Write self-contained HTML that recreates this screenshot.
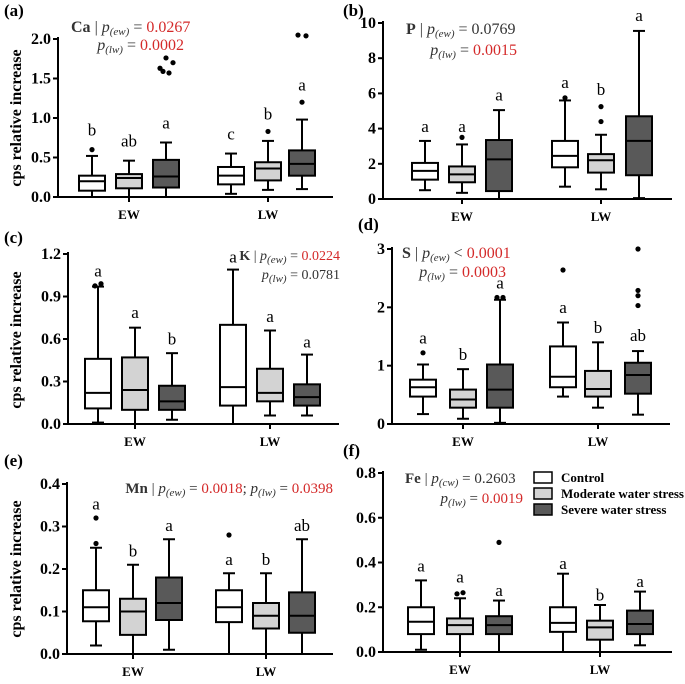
<!DOCTYPE html>
<html><head><meta charset="utf-8">
<style>
html,body{margin:0;padding:0;background:#fff;}
svg, svg text{font-family:"Liberation Serif","DejaVu Serif",serif;}
</style></head>
<body>
<svg id="fig" width="685" height="679" viewBox="0 0 685 679" font-family="Liberation Serif, serif" xmlns="http://www.w3.org/2000/svg"></svg>
<script>
// ---- data: [lowWhisker, q1, median, q3, highWhisker] per group (EW-C, EW-M, EW-S, LW-C, LW-M, LW-S)
const groups = ["EW-Control","EW-Moderate","EW-Severe","LW-Control","LW-Moderate","LW-Severe"];
const caBoxes = [[0,0.08,0.2,0.27,0.52],[0,0.11,0.24,0.29,0.46],[0,0.12,0.26,0.47,0.69],[0.04,0.16,0.27,0.38,0.55],[0.09,0.21,0.36,0.44,0.71],[0.1,0.27,0.42,0.59,0.98]];
const caOutliers = [[[0.6,0]],[],[[1.57,3],[1.59,-3],[1.63,-6],[1.70,7],[1.76,0]],[],[[0.83,0]],[[1.2,0],[2.05,-4],[2.04,4]]];
const caLetters = ["b","ab","a","c","b","a"];
const caLetterY = [0.78,0.64,0.87,0.73,0.98,1.35];
const pBoxes = [[0.5,1.1,1.6,2.05,3.3],[0.35,0.95,1.4,1.85,3.1],[0,0.45,2.25,3.35,5.05],[0.7,1.8,2.45,3.3,5.6],[0.55,1.5,2.2,2.55,3.65],[0.05,1.35,3.3,4.7,9.55]];
const pOutliers = [[],[[3.5,0]],[],[[5.75,0]],[[4.4,0],[5.25,0]],[]];
const pLetters = ["a","a","a","a","b","a"];
const pLetterY = [3.8,3.8,5.6,6.3,5.9,10.1];
const kBoxes = [[0.01,0.11,0.22,0.46,0.97],[0,0.1,0.24,0.47,0.68],[0.03,0.1,0.16,0.27,0.5],[0,0.13,0.26,0.7,1.09],[0.06,0.16,0.22,0.39,0.66],[0.06,0.13,0.19,0.28,0.49]];
const kOutliers = [[[0.975,-3],[0.99,3]],[],[],[],[],[]];
const kLetters = ["a","a","b","a","a","a"];
const kLetterY = [1.04,0.75,0.56,1.14,0.72,0.54];
const sBoxes = [[0.17,0.47,0.63,0.76,1.02],[0.09,0.28,0.42,0.59,0.94],[0.02,0.28,0.59,1.02,2.13],[0.47,0.63,0.81,1.33,1.74],[0.28,0.47,0.6,0.91,1.4],[0.16,0.52,0.84,1.05,1.25]];
const sOutliers = [[[1.22,0]],[],[[2.17,-3],[2.17,3]],[[2.64,0]],[],[[2.03,0],[2.2,0],[2.29,0],[3.0,0]]];
const sLetters = ["a","b","a","a","b","ab"];
const sLetterY = [1.38,1.1,2.32,1.9,1.56,1.42];
const mnBoxes = [[0.02,0.077,0.11,0.15,0.25],[0,0.045,0.1,0.13,0.21],[0.01,0.08,0.12,0.18,0.27],[0,0.075,0.11,0.15,0.19],[0,0.06,0.09,0.12,0.19],[0,0.05,0.09,0.145,0.27]];
const mnOutliers = [[[0.26,0],[0.32,0]],[],[],[[0.28,0]],[],[]];
const mnLetters = ["a","b","a","a","b","ab"];
const mnLetterY = [0.34,0.23,0.29,0.21,0.21,0.29];
const feBoxes = [[0.01,0.08,0.135,0.2,0.32],[0,0.08,0.12,0.15,0.24],[0,0.08,0.12,0.16,0.23],[0,0.09,0.13,0.2,0.35],[0,0.055,0.11,0.14,0.21],[0.03,0.08,0.125,0.185,0.27]];
const feOutliers = [[],[[0.26,-3],[0.265,3]],[[0.49,0]],[],[],[]];
const feLetters = ["a","a","a","a","b","a"];
const feLetterY = [0.36,0.31,0.25,0.37,0.23,0.29];
const caTicks = [0,0.5,1.0,1.5,2.0], caTickLabels=["0.0","0.5","1.0","1.5","2.0"];
const pTicks = [0,2,4,6,8,10], pTickLabels=["0","2","4","6","8","10"];
const kTicks = [0,0.3,0.6,0.9,1.2], kTickLabels=["0.0","0.3","0.6","0.9","1.2"];
const sTicks = [0,1,2,3], sTickLabels=["0","1","2","3"];
const mnTicks = [0,0.1,0.2,0.3,0.4], mnTickLabels=["0.0","0.1","0.2","0.3","0.4"];
const feTicks = [0,0.2,0.4,0.6,0.8], feTickLabels=["0.0","0.2","0.4","0.6","0.8"];

const fills = ["#ffffff","#d3d3d3","#595959"];
const NS = "http://www.w3.org/2000/svg";
const FONT = "Liberation Serif, DejaVu Serif, serif";
const svg = document.getElementById("fig");
function mk(tag, attrs, parent){const e=document.createElementNS(NS,tag);if(tag==="text")e.setAttribute("font-family",FONT);for(const k in attrs)e.setAttribute(k,attrs[k]);(parent||svg).appendChild(e);return e;}

function panel(cfg){
  const g = mk("g",{});
  
  
  const y = v => cfg.y0 - (v/cfg.ymax)*(cfg.y0-cfg.ytop);
  const ax = mk("path",{d:`M${cfg.ax} ${cfg.ytop-2} V${cfg.y0} H${cfg.xend}`,stroke:"#000","stroke-width":2,fill:"none"},g);
  
  
  cfg.ticks.forEach((t,i)=>{
    mk("line",{x1:cfg.ax-5,x2:cfg.ax,y1:y(t),y2:y(t),stroke:"#000","stroke-width":2},g);
    const tl = mk("text",{x:cfg.ax-7,y:y(t)+5,"text-anchor":"end","font-size":16,"font-weight":"bold"},g);
    tl.textContent = cfg.tickLabels[i];
    
    
  });
  [[cfg.xs[1],"EW"],[cfg.xs[4],"LW"]].forEach(([x,l])=>{
    mk("line",{x1:x,x2:x,y1:cfg.y0,y2:cfg.y0+5,stroke:"#000","stroke-width":2},g);
    const xl = mk("text",{x:x,y:cfg.y0+22,"text-anchor":"middle","font-size":13,"font-weight":"bold"},g);
    xl.textContent = l;
    
    
  });
  const w = 26;
  cfg.boxes.forEach((b,i)=>{
    const x = cfg.xs[i];
    const bg = mk("g",{},g);
    
    
    mk("line",{x1:x,x2:x,y1:y(b[0]),y2:y(b[4]),stroke:"#000","stroke-width":2},bg);
    mk("line",{x1:x-6,x2:x+6,y1:y(b[0]),y2:y(b[0]),stroke:"#000","stroke-width":2},bg);
    mk("line",{x1:x-6,x2:x+6,y1:y(b[4]),y2:y(b[4]),stroke:"#000","stroke-width":2},bg);
    mk("rect",{x:x-w/2,y:y(b[3]),width:w,height:y(b[1])-y(b[3]),fill:fills[i%3],stroke:"#000","stroke-width":2},bg);
    mk("line",{x1:x-w/2,x2:x+w/2,y1:y(b[2]),y2:y(b[2]),stroke:"#000","stroke-width":2},bg);
    cfg.outliers[i].forEach(o=>{
      const c = mk("circle",{cx:x+o[1],cy:y(o[0]),r:2.6,fill:"#000"},bg);
      
      
    });
    const lt = mk("text",{x:x,y:y(cfg.letterY[i]),"text-anchor":"middle","font-size":17},g);
    lt.textContent = cfg.letters[i];
    
    
  });
  const pl = mk("text",{x:cfg.lx,y:cfg.ly,"font-size":17,"font-weight":"bold"},g);
  pl.textContent = cfg.label;
  
  
  return g;
}
function ann(x,y,anchor,parts,name,fs){
  const t = mk("text",{x:x,y:y,"text-anchor":anchor,"font-size":fs||15,fill:"#333"});
  
  
  parts.forEach(p=>{const s=mk("tspan",{},t);
    if(p.b)s.setAttribute("font-weight","bold");
    if(p.i)s.setAttribute("font-style","italic");
    if(p.c)s.setAttribute("fill",p.c);
    if(p.sub){s.setAttribute("font-size",11);s.setAttribute("dy",3);}
    if(p.up){s.setAttribute("dy",-3);}
    s.textContent=p.t;});
}
const red="#d42a2a";

panel({name:"panel-a-ca",label:"(a)",lx:4,ly:16,ax:58,y0:197,ymax:2.0,ytop:39,xend:333,xs:[92,129,166,231,268,302],boxes:caBoxes,outliers:caOutliers,letters:caLetters,letterY:caLetterY,ticks:caTicks,tickLabels:caTickLabels});
panel({name:"panel-b-p",label:"(b)",lx:343,ly:16,ax:383,y0:199,ymax:10,ytop:23,xend:672,xs:[425,462,499,565,601,639],boxes:pBoxes,outliers:pOutliers,letters:pLetters,letterY:pLetterY,ticks:pTicks,tickLabels:pTickLabels});
panel({name:"panel-c-k",label:"(c)",lx:4,ly:243,ax:68,y0:424,ymax:1.2,ytop:254,xend:339,xs:[98,135,172,233,270,307],boxes:kBoxes,outliers:kOutliers,letters:kLetters,letterY:kLetterY,ticks:kTicks,tickLabels:kTickLabels});
panel({name:"panel-d-s",label:"(d)",lx:358,ly:230,ax:392,y0:424,ymax:3,ytop:249,xend:670,xs:[423,463,500,563,598,638],boxes:sBoxes,outliers:sOutliers,letters:sLetters,letterY:sLetterY,ticks:sTicks,tickLabels:sTickLabels});
panel({name:"panel-e-mn",label:"(e)",lx:4,ly:466,ax:67,y0:654,ymax:0.4,ytop:484,xend:333,xs:[96,133,169,229,266,302],boxes:mnBoxes,outliers:mnOutliers,letters:mnLetters,letterY:mnLetterY,ticks:mnTicks,tickLabels:mnTickLabels});
panel({name:"panel-f-fe",label:"(f)",lx:343,ly:456,ax:383,y0:652,ymax:0.8,ytop:473,xend:672,xs:[421,460,499,563,600,640],boxes:feBoxes,outliers:feOutliers,letters:feLetters,letterY:feLetterY,ticks:feTicks,tickLabels:feTickLabels});

ann(71,32,"start",[{t:"Ca",b:1},{t:" | "},{t:"p",i:1},{t:"(ew)",i:1,sub:1},{t:" = ",up:1},{t:"0.0267",c:red}],"annotation-ca-ew",16);
ann(184,50,"end",[{t:"p",i:1},{t:"(lw)",i:1,sub:1},{t:" = ",up:1},{t:"0.0002",c:red}],"annotation-ca-lw",16);
ann(406,34,"start",[{t:"P",b:1},{t:" | "},{t:"p",i:1},{t:"(ew)",i:1,sub:1},{t:" = 0.0769",up:1}],"annotation-p-ew",16);
ann(517,55,"end",[{t:"p",i:1},{t:"(lw)",i:1,sub:1},{t:" = ",up:1},{t:"0.0015",c:red}],"annotation-p-lw",16);
ann(340,260,"end",[{t:"K",b:1},{t:" | "},{t:"p",i:1},{t:"(ew)",i:1,sub:1},{t:" = ",up:1},{t:"0.0224",c:red}],"annotation-k-ew",14);
ann(340,279,"end",[{t:"p",i:1},{t:"(lw)",i:1,sub:1},{t:" = 0.0781",up:1}],"annotation-k-lw",14);
ann(402,258,"start",[{t:"S",b:1},{t:" | "},{t:"p",i:1},{t:"(ew)",i:1,sub:1},{t:" < ",up:1},{t:"0.0001",c:red}],"annotation-s-ew",16);
ann(506,277,"end",[{t:"p",i:1},{t:"(lw)",i:1,sub:1},{t:" = ",up:1},{t:"0.0003",c:red}],"annotation-s-lw",16);
ann(333,493,"end",[{t:"Mn",b:1},{t:" | "},{t:"p",i:1},{t:"(ew)",i:1,sub:1},{t:" = ",up:1},{t:"0.0018",c:red},{t:"; "},{t:"p",i:1},{t:"(lw)",i:1,sub:1},{t:" = ",up:1},{t:"0.0398",c:red}],"annotation-mn",15);
ann(405,483,"start",[{t:"Fe",b:1},{t:" | "},{t:"p",i:1},{t:"(cw)",i:1,sub:1},{t:" = 0.2603",up:1}],"annotation-fe-ew",15);
ann(523,503,"end",[{t:"p",i:1},{t:"(lw)",i:1,sub:1},{t:" = ",up:1},{t:"0.0019",c:red}],"annotation-fe-lw",15);

[[118],[340],[569]].forEach(([cy])=>{
  const t = mk("text",{x:0,y:0,transform:`translate(21,${cy}) rotate(-90)`,"text-anchor":"middle","font-size":16,"font-weight":"bold"});
  t.textContent = "cps relative increase";
  
  
});
const legendLabels = ["Control","Moderate water stress","Severe water stress"];
legendLabels.forEach((l,i)=>{
  const g = mk("g",{});
  
  
  mk("rect",{x:534,y:472+i*16,width:18,height:11,fill:fills[i],stroke:"#000","stroke-width":1.5},g);
  const t = mk("text",{x:561,y:482+i*16,"font-size":13,"font-weight":"bold"},g);
  t.textContent = l;
});
</script>
</body></html>
